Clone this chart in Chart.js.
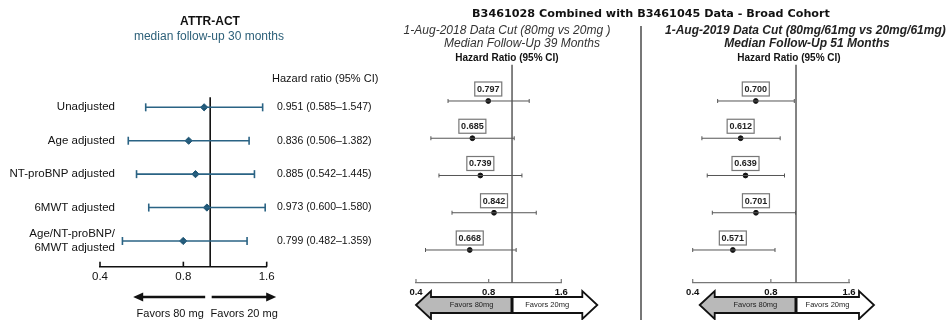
<!DOCTYPE html>
<html>
<head>
<title>Hazard ratio forest plots</title>
<script src="https://cdn.jsdelivr.net/npm/chart.js"></script>
<style>
  body { margin: 0; background: #fff; }
  #wrap { position: relative; width: 948px; height: 320px; overflow: hidden; font-family: "Liberation Sans", Arial, sans-serif; color: #111; }
  canvas { position: absolute; top: 0; }
  .t { position: absolute; white-space: nowrap; line-height: 1; transform: translate(-50%, -50%); }
  .l { transform: translate(0, -50%); }
</style>
</head>
<body>
<div id="wrap">
  <canvas id="attr" width="380" height="320" style="left:0"></canvas>
  <canvas id="cut2018" width="258" height="320" style="left:382px"></canvas>
  <canvas id="cut2019" width="303" height="320" style="left:645px"></canvas>

  <div class="t" style="left:210px;top:21px;font-weight:bold;font-size:12px">ATTR-ACT</div>
  <div class="t" style="left:209px;top:36px;font-size:12px;color:#2d6079">median follow-up 30 months</div>
  <div class="t l" style="left:272px;top:78px;font-size:11px">Hazard ratio (95% CI)</div>

  <div class="t" style="left:651px;top:14px;font-family:'DejaVu Sans';font-weight:bold;font-size:11.2px">B3461028 Combined with B3461045 Data - Broad Cohort</div>
  <div class="t" style="left:507px;top:30px;font-style:italic;font-size:12px;color:#333">1-Aug-2018 Data Cut (80mg vs 20mg )</div>
  <div class="t" style="left:522px;top:43px;font-style:italic;font-size:12px;color:#333">Median Follow-Up 39 Months</div>
  <div class="t" style="left:507px;top:58px;font-weight:bold;font-size:10px">Hazard Ratio (95% CI)</div>
  <div class="t l" style="left:665px;top:30px;font-style:italic;font-weight:bold;font-size:12px;color:#222">1-Aug-2019 Data Cut (80mg/61mg vs 20mg/61mg)</div>
  <div class="t" style="left:807px;top:43px;font-style:italic;font-weight:bold;font-size:12px;color:#222">Median Follow-Up 51 Months</div>
  <div class="t" style="left:789px;top:58px;font-weight:bold;font-size:10px">Hazard Ratio (95% CI)</div>

  <div style="position:absolute;left:640px;top:26px;width:1.5px;height:294px;background:#777"></div>
</div>

<script>
  // ATTR-ACT panel
  const attrLabels = ['Unadjusted', 'Age adjusted', 'NT-proBNP adjusted', '6MWT adjusted', 'Age/NT-proBNP/\n6MWT adjusted'];
  const attrHR = [0.951, 0.836, 0.885, 0.973, 0.799];
  const attrLo = [0.585, 0.506, 0.542, 0.600, 0.482];
  const attrHi = [1.547, 1.382, 1.445, 1.580, 1.359];

  // B3461028 + B3461045, 1-Aug-2018 cut
  const hr2018 = [0.797, 0.685, 0.739, 0.842, 0.668];
  const lo2018 = [0.543, 0.461, 0.498, 0.564, 0.438];
  const hi2018 = [1.178, 1.021, 1.099, 1.260, 1.040];

  // 1-Aug-2019 cut
  const hr2019 = [0.700, 0.612, 0.639, 0.701, 0.571];
  const lo2019 = [0.499, 0.434, 0.455, 0.476, 0.400];
  const hi2019 = [0.985, 0.869, 0.903, 0.996, 0.830];

  const tickValues = [0.4, 0.8, 1.6];
  const tickLabels = ['0.4', '0.8', '1.6'];
  const favorLabels = ['Favors 80 mg', 'Favors 20 mg'];
  const favorShort = ['Favors 80mg', 'Favors 20mg'];

  const fmt = v => v.toFixed(3);

  // draws the little upward ticks on the x axis line
  function upTicks(chart, len, color, width) {
    const s = chart.scales.x, ctx = chart.ctx;
    ctx.save();
    ctx.strokeStyle = color;
    ctx.lineWidth = width;
    tickValues.forEach(v => {
      const x = s.getPixelForValue(v);
      ctx.beginPath();
      ctx.moveTo(x, s.top);
      ctx.lineTo(x, s.top - len);
      ctx.stroke();
    });
    ctx.restore();
  }

  // block double arrow (gray left half, white right half)
  function blockArrow(ctx, x0, xm, x1, yc, body, head, hl, labels) {
    const shape = (a, b, leftHead, rightHead) => {
      ctx.beginPath();
      if (leftHead) {
        ctx.moveTo(a, yc);
        ctx.lineTo(a + hl, yc - head);
        ctx.lineTo(a + hl, yc - body);
      } else {
        ctx.moveTo(a, yc - body);
      }
      if (rightHead) {
        ctx.lineTo(b - hl, yc - body);
        ctx.lineTo(b - hl, yc - head);
        ctx.lineTo(b, yc);
        ctx.lineTo(b - hl, yc + head);
        ctx.lineTo(b - hl, yc + body);
      } else {
        ctx.lineTo(b, yc - body);
        ctx.lineTo(b, yc + body);
      }
      if (leftHead) {
        ctx.lineTo(a + hl, yc + body);
        ctx.lineTo(a + hl, yc + head);
      } else {
        ctx.lineTo(a, yc + body);
      }
      ctx.closePath();
    };
    ctx.save();
    ctx.lineJoin = 'miter';
    ctx.strokeStyle = '#111';
    ctx.lineWidth = 1.8;
    shape(x0, xm, true, false);
    ctx.fillStyle = '#b9b9b9';
    ctx.fill();
    ctx.stroke();
    shape(xm, x1, false, true);
    ctx.fillStyle = '#fff';
    ctx.fill();
    ctx.stroke();
    ctx.beginPath();
    ctx.lineWidth = 3;
    ctx.moveTo(xm, yc - body);
    ctx.lineTo(xm, yc + body);
    ctx.stroke();
    ctx.fillStyle = '#222';
    ctx.font = '7.5px "Liberation Sans"';
    ctx.textAlign = 'center';
    ctx.textBaseline = 'middle';
    ctx.fillText(labels[0], (x0 + hl + xm) / 2, yc);
    ctx.fillText(labels[1], (xm + x1 - hl) / 2, yc);
    ctx.restore();
  }

  function forest(id, o) {
    const datasets = [];
    o.lo.forEach((lo, i) => datasets.push({
      data: [{x: lo, y: i + 1}, {x: o.hi[i], y: i + 1}],
      showLine: true,
      borderColor: o.color,
      borderWidth: o.lineW,
      pointStyle: 'line',
      pointRotation: 90,
      pointRadius: o.cap,
      pointBorderColor: o.color,
      pointBorderWidth: o.lineW,
      clip: false
    }));
    datasets.push({
      data: o.hr.map((v, i) => ({x: v, y: i + 1})),
      pointStyle: o.marker,
      pointRadius: o.markerR,
      pointBackgroundColor: o.markColor,
      pointBorderColor: o.markColor,
      pointBorderWidth: 1,
      clip: false
    });
    datasets.push({
      data: [{x: 1, y: o.refTop}, {x: 1, y: o.yMax}],
      showLine: true,
      borderColor: o.refColor,
      borderWidth: o.refW,
      pointRadius: 0,
      clip: false
    });

    return new Chart(document.getElementById(id), {
      type: 'scatter',
      data: {datasets: datasets},
      options: {
        responsive: false,
        animation: false,
        events: [],
        layout: {padding: o.pad},
        plugins: {legend: {display: false}, tooltip: {enabled: false}},
        scales: {
          x: {
            type: 'logarithmic',
            min: 0.4,
            max: 1.6,
            afterBuildTicks: s => { s.ticks = tickValues.map(v => ({value: v})); },
            afterFit: s => { s.height = 20; },
            ticks: {
              autoSkip: false,
              maxRotation: 0,
              padding: o.tickPad,
              color: '#111',
              font: o.tickFont,
              callback: (v, i) => tickLabels[i]
            },
            grid: {drawOnChartArea: false, drawTicks: false},
            border: {color: o.axisColor, width: o.axisW}
          },
          y: {type: 'linear', min: 0, max: o.yMax, reverse: true, display: false}
        }
      },
      plugins: [{
        id: 'extras',
        afterDatasetsDraw: chart => o.extras(chart),
        afterDraw: chart => upTicks(chart, o.tickUp, o.axisColor, o.axisW)
      }]
    });
  }

  forest('attr', {
    hr: attrHR, lo: attrLo, hi: attrHi,
    color: '#2a6384', markColor: '#1f5675', lineW: 1.6, cap: 4,
    marker: 'rectRot', markerR: 3.6,
    refColor: '#111', refW: 1.6, refTop: 0.7, yMax: 5.77,
    pad: {left: 100, right: 113.3, top: 73.9, bottom: 33.3},
    tickPad: 3, tickFont: {family: 'Liberation Sans', size: 11.5},
    axisColor: '#111', axisW: 1.6, tickUp: 5,
    extras: chart => {
      const ctx = chart.ctx, y = chart.scales.y, x = chart.scales.x;
      ctx.save();
      ctx.fillStyle = '#111';
      ctx.textBaseline = 'middle';
      ctx.font = '11.5px "Liberation Sans"';
      ctx.textAlign = 'right';
      attrLabels.forEach((lab, i) => {
        const lines = lab.split('\n');
        const yc = y.getPixelForValue(i + 1);
        lines.forEach((ln, k) => ctx.fillText(ln, 115, yc + (k - (lines.length - 1) / 2) * 14));
      });
      ctx.font = '10.5px "Liberation Sans"';
      ctx.textAlign = 'left';
      attrHR.forEach((v, i) => {
        ctx.fillText(fmt(v) + ' (' + fmt(attrLo[i]) + '\u2013' + fmt(attrHi[i]) + ')', 277, y.getPixelForValue(i + 1));
      });
      // favours arrows
      const ref = x.getPixelForValue(1), ya = 297;
      ctx.strokeStyle = '#111';
      ctx.lineWidth = 2.6;
      const arrow = (a, b) => {
        const d = Math.sign(b - a);
        ctx.beginPath();
        ctx.moveTo(a, ya);
        ctx.lineTo(b - d * 8, ya);
        ctx.stroke();
        ctx.beginPath();
        ctx.moveTo(b, ya);
        ctx.lineTo(b - d * 10, ya - 4.5);
        ctx.lineTo(b - d * 10, ya + 4.5);
        ctx.closePath();
        ctx.fill();
      };
      arrow(ref - 5, ref - 77);
      arrow(ref + 1.5, ref + 66);
      ctx.font = '11px "Liberation Sans"';
      ctx.textAlign = 'center';
      ctx.fillText(favorLabels[0], ref - 40, 314);
      ctx.fillText(favorLabels[1], ref + 34, 314);
      ctx.restore();
    }
  });

  function boxes(chart, hr, arrowTip, arrowLen) {
    const ctx = chart.ctx, x = chart.scales.x;
    const pts = chart.getDatasetMeta(hr.length).data;
    ctx.save();
    ctx.font = 'bold 9px "Liberation Sans"';
    ctx.textAlign = 'center';
    ctx.textBaseline = 'middle';
    pts.forEach((p, i) => {
      const w = 27, h = 14, cy = p.y - 12;
      ctx.fillStyle = '#fff';
      ctx.fillRect(p.x - w / 2, cy - h / 2, w, h);
      ctx.strokeStyle = '#777';
      ctx.lineWidth = 1.2;
      ctx.strokeRect(p.x - w / 2, cy - h / 2, w, h);
      ctx.fillStyle = '#222';
      ctx.fillText(fmt(hr[i]), p.x, cy + 0.5);
    });
    ctx.restore();
    blockArrow(ctx, x.left + arrowTip, x.getPixelForValue(1), x.right + arrowLen, 305, 8, 14, 15, favorShort);
  }

  const cutOpts = {
    color: '#555', markColor: '#111', lineW: 1, cap: 2,
    marker: 'circle', markerR: 2.4,
    refColor: '#666', refW: 1.6, refTop: 0.03, yMax: 5.886,
    tickPad: 4, tickFont: {family: 'Liberation Sans', size: 9.5, weight: 'bold'},
    axisColor: '#777', axisW: 1.2, tickUp: 4
  };

  forest('cut2018', Object.assign({}, cutOpts, {
    hr: hr2018, lo: lo2018, hi: hi2018,
    pad: {left: 34, right: 78.7, top: 63.75, bottom: 17},
    extras: chart => boxes(chart, hr2018, 0, 36)
  }));

  forest('cut2019', Object.assign({}, cutOpts, {
    hr: hr2019, lo: lo2019, hi: hi2019,
    pad: {left: 47.7, right: 99, top: 63.75, bottom: 17},
    extras: chart => boxes(chart, hr2019, 7, 25)
  }));
</script>
</body>
</html>
